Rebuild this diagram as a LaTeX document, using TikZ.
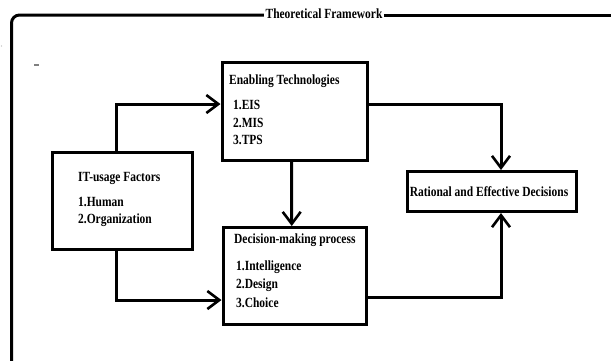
\documentclass[tikz,border=0pt]{standalone}
\usepackage{fontspec}
\setmainfont{Liberation Serif}[FakeStretch=0.82]
\usetikzlibrary{arrows.meta}
\tikzset{
  box/.style={draw, line width=3pt, inner sep=0pt, fill=white},
  arr/.style={line width=3pt, -{Straight Barb[length=12pt,width=18pt,line width=2.6pt]}},
  frameline/.style={line width=3pt},
  txt/.style={anchor=west, inner sep=0pt, font=\fontsize{14}{17}\selectfont\bfseries},
}
\begin{document}
\begin{tikzpicture}[x=1pt,y=-1pt]
\useasboundingbox[fill=white] (0,0) rectangle (611,360);
% frame
\node[inner sep=0pt, font=\fontsize{14}{17}\selectfont\bfseries] (title) at (324,14) {Theoretical Framework};
\coordinate (fbl) at (11.5,362);
\coordinate (ftr) at (613,15);
\draw[frameline, rounded corners=8pt] (fbl) |- ([xshift=-1.5pt,yshift=-1pt]title.west);
\draw[frameline] ([xshift=1.5pt,yshift=-1pt]title.east) -- (ftr);
\draw[line width=1.2pt, gray] (34,65) -- (39,65);
\fill[gray!60] (1.5,46) circle (0.6pt);
% boxes
\node[box, minimum width=145pt, minimum height=97.5pt] (ET) at (294.5,111.25) {};
\node[box, minimum width=139.5pt, minimum height=97pt] (IT) at (122.25,200.5) {};
\node[box, minimum width=143.5pt, minimum height=96.5pt] (DM) at (294.75,275.75) {};
\node[box, minimum width=169pt, minimum height=40pt] (RE) at (492,191.5) {};
% texts
\node[txt] (et0) at (229,81) {Enabling Technologies};
\node[txt] (et1) at (233,105) {1.EIS};
\node[txt] (et2) at (233,123) {2.MIS};
\node[txt] (et3) at (233,140) {3.TPS};
\node[txt] (it0) at (78,178) {IT-usage Factors};
\node[txt] (it1) at (78,202) {1.Human};
\node[txt] (it2) at (78,220) {2.Organization};
\node[txt] (dm0) at (234,240) {Decision-making process};
\node[txt] (dm1) at (236,267) {1.Intelligence};
\node[txt] (dm2) at (236,285) {2.Design};
\node[txt] (dm3) at (236,303) {3.Choice};
\node[txt, anchor=center] (re0) at (489,192) {Rational and Effective Decisions};
% connectors
\draw[arr] ([xshift=-6.25pt]IT.north) |- ([yshift=7.25pt]ET.west);
\draw[arr] ([xshift=-6.25pt]IT.south) |- ([yshift=-24.25pt]DM.west);
\draw[arr] ([yshift=7.25pt]ET.east) -| ([xshift=9pt]RE.north);
\draw[arr] ([xshift=-3pt]ET.south) -- ([xshift=-3pt]DM.north);
\draw[arr] ([yshift=-21.25pt]DM.east) -| ([xshift=9pt]RE.south);
\end{tikzpicture}
\end{document}
